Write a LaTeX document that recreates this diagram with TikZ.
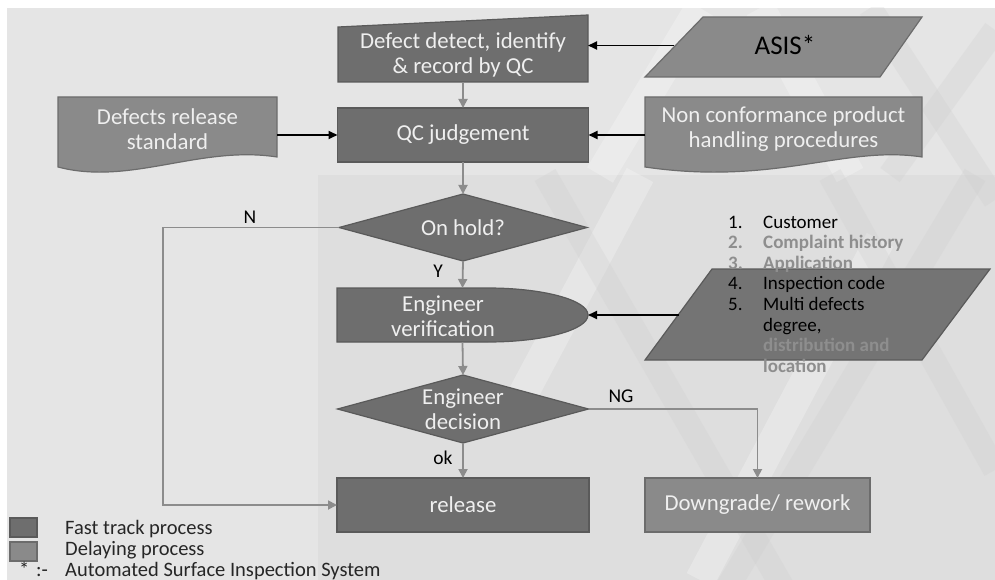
\documentclass[tikz,border=0pt]{standalone}
\usepackage{fontspec}
\setmainfont{Carlito}
\usetikzlibrary{arrows.meta,shapes.geometric}

\definecolor{bgbase}{HTML}{E5E5E5}
\definecolor{bglow}{HTML}{DEDEDE}
\definecolor{bandgray}{HTML}{C9C9C9}
\definecolor{fastfill}{HTML}{6E6E6E}
\definecolor{slowfill}{HTML}{8A8A8A}
\definecolor{infofill}{HTML}{747474}
\definecolor{fastline}{HTML}{5A5A5A}
\definecolor{slowline}{HTML}{6C6C6C}
\definecolor{flow}{HTML}{8C8C8C}
\definecolor{boxtext}{HTML}{EFEFEF}
\definecolor{listgray}{HTML}{8E8E8E}

\begin{document}
\begin{tikzpicture}[x=1pt,y=-1pt,
  fast/.style={fill=fastfill,draw=fastline,line width=1.2pt},
  slow/.style={fill=slowfill,draw=slowline,line width=1.2pt},
  info/.style={fill=infofill,draw=fastline,line width=1.2pt},
  frame/.style={inner sep=0pt,outer sep=0pt},
  boxtxt/.style={text=boxtext,font=\fontsize{22.8}{25}\selectfont,align=center,inner sep=0pt,outer sep=0pt},
  flowarrow/.style={draw=flow,line width=1.8pt,-{Triangle[length=9pt,width=9pt]}},
  feedarrow/.style={draw=black,line width=1.8pt,-{Triangle[length=9pt,width=8pt]}},
  lbl/.style={font=\fontsize{19.5}{22}\selectfont,text=black,inner sep=0pt,anchor=base},
  listtxt/.style={font=\fontsize{19}{21}\selectfont,inner sep=0pt,anchor=base west},
  listgrey/.style={listtxt,text=listgray,font=\fontsize{19}{21}\selectfont\bfseries},
  legtxt/.style={font=\fontsize{20.5}{23}\selectfont,text=black!85,inner sep=0pt,anchor=base west},
  band/.style={line width=24pt,draw=bandgray,opacity=0.22},
  glow/.style={line width=30pt,draw=white,opacity=0.25}
]
\useasboundingbox (0,0) rectangle (995,580);

% page and slide background
\fill[white] (0,0) rectangle (995,580);
\fill[bgbase] (7,8) rectangle (995,580);
\fill[bglow] (318,175) rectangle (995,580);

% faint criss-cross decoration of the slide template
\begin{scope}
  \clip (7,8) rectangle (995,580);
  \draw[glow] (700,8) -- (600,175);
  \draw[glow] (760,8) -- (850,175);
  \draw[glow] (640,175) -- (520,400);
  \draw[glow] (880,240) -- (700,580);
  \draw[band] (870,8) -- (995,200);
  \draw[band] (995,30) -- (890,175);
  \draw[band] (545,175) -- (790,600);
  \draw[band] (975,175) -- (720,600);
  \draw[band] (830,175) -- (995,470);
\end{scope}

% outlines of the special flowchart symbols
\draw[fast] (338,82) -- (338,27) -- (588,15) -- (588,82) -- cycle;
\draw[slow] (58,97) -- (277,97) -- (277,157)
  .. controls (200,145) and (130,186) .. (58,167) -- cycle;
\draw[slow] (645,97) -- (922,97) -- (922,157)
  .. controls (845,145) and (775,186) .. (645,167) -- cycle;
\draw[slow] (703,17) -- (922,17) -- (880,77) -- (645,77) -- cycle;
\draw[fast] (337,288) -- (488,288)
  arc[start angle=90,end angle=-90,x radius=100pt,y radius=27pt]
  -- (337,342) -- cycle;
\draw[info] (712,269) -- (990,269) -- (922,360) -- (645,360) -- cycle;

% process nodes
\node[boxtxt,frame,minimum width=250,minimum height=55] (det) at (463,54.5)
  {Defect detect, identify\\\& record by QC};
\node[boxtxt,fast,minimum width=251,minimum height=54] (qc) at (463,135) {QC judgement};
\node[boxtxt,frame,minimum width=219,minimum height=65] (drs) at (167.5,129.5)
  {Defects release\\standard};
\node[boxtxt,frame,minimum width=277,minimum height=65] (ncp) at (783.5,129.5)
  {Non conformance product\\handling procedures};
\node[frame,minimum width=222,minimum height=60,font=\fontsize{27}{30}\selectfont,text=black]
  (asis) at (785,45.5) {ASIS*};
\node[boxtxt,fast,diamond,aspect=3.7,minimum width=248,minimum height=67] (hold) at (463,227.5)
  {On hold?};
\node[frame,minimum width=251,minimum height=54] (ver) at (462.5,315) {};
\node[boxtxt] (vertxt) at (443,316) {Engineer\\verification};
\node[boxtxt,fast,diamond,aspect=3.69,minimum width=251,minimum height=68] (dec) at (463,409)
  {Engineer\\decision};
\node[boxtxt,fast,minimum width=252,minimum height=54] (rel) at (463,505) {release};
\node[boxtxt,slow,minimum width=225,minimum height=54] (dg) at (757.5,505) {Downgrade/ rework};

\coordinate (infoin) at (679,315);
\coordinate (nbend) at (163,227.5);

% inputs from the side documents
\draw[feedarrow] (asis.west) -- (asis.west -| det.east);
\draw[feedarrow] (drs.east |- qc.west) -- (qc.west);
\draw[feedarrow] (ncp.west |- qc.east) -- (qc.east);
\draw[feedarrow] (infoin) -- (ver.east);

% main flow
\draw[flowarrow] (det.south) -- (qc.north);
\draw[flowarrow] (qc.south) -- (hold.north);
\draw[flowarrow] (hold.south) -- (ver.north);
\draw[flowarrow] (ver.south) -- (dec.north);
\draw[flowarrow] (dec.south) -- (rel.north);
\draw[flowarrow] (dec.east) -| (dg.north);
\draw[flowarrow] (hold.west) -- (nbend) |- (rel.west);

% branch labels
\node[lbl] (lN) at (250,223) {N};
\node[lbl] (lY) at (438,277) {Y};
\node[lbl] (lok) at (443,464) {ok};
\node[lbl] (lNG) at (621,402) {NG};

% criteria list
\node[listtxt,text=black] (n1) at (728,228) {1.};
\node[listtxt,text=black] (t1) at (763,228) {Customer};
\node[listgrey] (n2) at (728,248.6) {2.};
\node[listgrey] (t2) at (763,248.6) {Complaint history};
\node[listgrey] (n3) at (728,269.2) {3.};
\node[listgrey] (t3) at (763,269.2) {Application};
\node[listtxt,text=black] (n4) at (728,289.8) {4.};
\node[listtxt,text=black] (t4) at (763,289.8) {Inspection code};
\node[listtxt,text=black] (n5) at (728,310.4) {5.};
\node[listtxt,text=black] (t5) at (763,310.4) {Multi defects};
\node[listtxt,text=black] (t6) at (763,331) {degree,};
\node[listgrey] (t7) at (763,351.6) {distribution and};
\node[listgrey] (t8) at (763,372.2) {location};

% legend
\node[fast,minimum width=27,minimum height=19,inner sep=0pt] (legfast) at (23.5,527.5) {};
\node[slow,minimum width=27,minimum height=19,inner sep=0pt] (legslow) at (23.5,551.5) {};
\node[legtxt] (legfasttxt) at (65,534) {Fast track process};
\node[legtxt] (legslowtxt) at (65,555.5) {Delaying process};
\node[legtxt] (legstar) at (19,576) {*\,\,:-};
\node[legtxt] (legasis) at (65,576) {Automated Surface Inspection System};
\end{tikzpicture}
\end{document}
